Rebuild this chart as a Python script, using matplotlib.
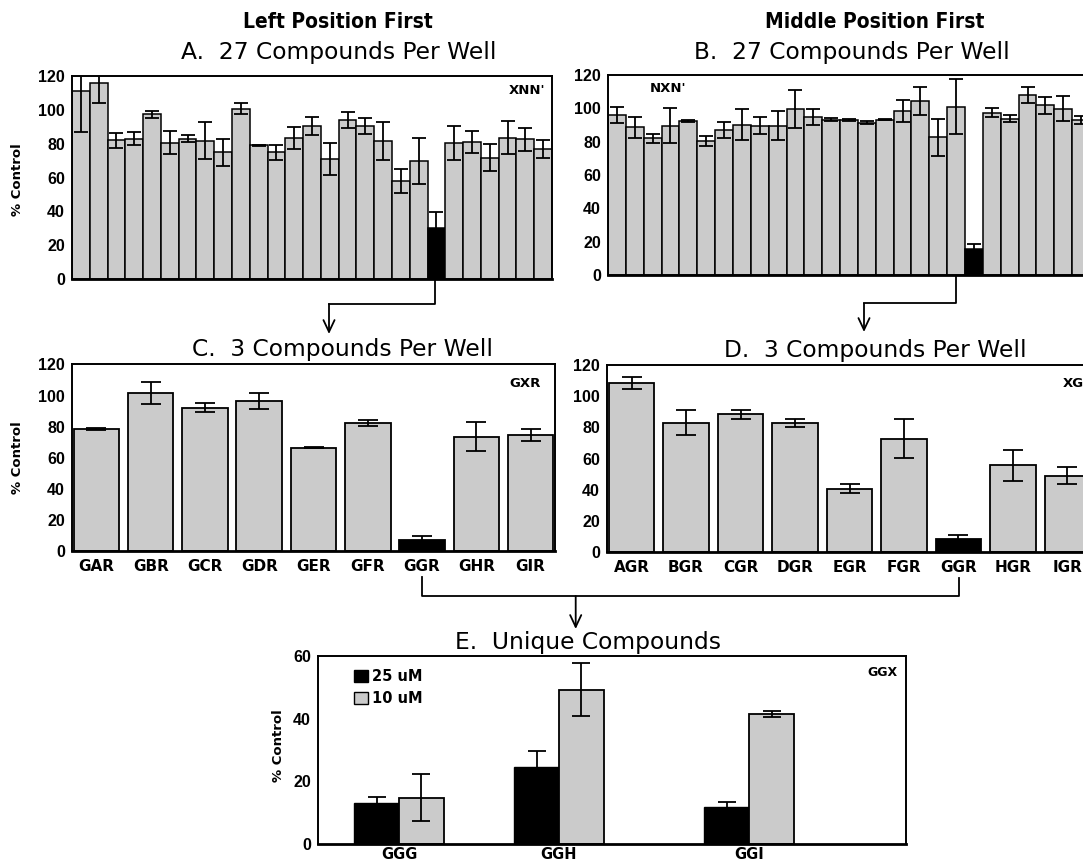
import matplotlib
matplotlib.use("Agg")
import matplotlib.pyplot as plt
from matplotlib.patches import Patch
import numpy as np

W, H = 1083, 863

# panel A / B : 27 compounds per well (bar 21 = active well)
a_vals = [111, 116, 82, 83, 97.4, 80.5, 83, 81.7, 74.8, 100.7, 79, 75, 83.5, 90.5,
          70.9, 93.9, 90.3, 81.5, 57.9, 69.9, 30.4, 80.3, 81, 71.7, 83.5, 82.7, 76.8]
a_err = [24, 12, 4.6, 3.7, 2, 6.8, 2, 11, 8, 3.3, 0.5, 4.5, 6.5, 5.5,
         9.5, 4.6, 4.6, 11.4, 7.2, 13.7, 9, 10, 6.6, 7.9, 9.8, 6.8, 5.2]
b_vals = [95.8, 88.5, 82, 89.5, 92.3, 80.3, 86.9, 90, 89.5, 89.5, 99.3, 94.8, 93.2, 93,
          91.3, 93.2, 98.3, 104.2, 82.6, 101, 15.5, 97.4, 93.8, 108, 101.7, 99.7, 92.8]
b_err = [4.9, 6.5, 2.7, 10.5, 0.5, 3.2, 4.8, 9.3, 5, 8.7, 11.4, 5, 1, 0.5,
         1, 0.5, 6.4, 8.4, 11, 16.3, 3, 2.5, 2, 5, 5.1, 7.6, 2.5]
ab_hit = 20

# panel C / D : 3 compounds per well
c_labels = ['GAR', 'GBR', 'GCR', 'GDR', 'GER', 'GFR', 'GGR', 'GHR', 'GIR']
c_vals = [78.3, 101.7, 92.2, 96.3, 66.3, 82.6, 7.2, 73.6, 74.5]
c_err = [0.6, 6.8, 2.8, 5.1, 0.3, 1.9, 2.6, 9.3, 3.9]
d_labels = ['AGR', 'BGR', 'CGR', 'DGR', 'EGR', 'FGR', 'GGR', 'HGR', 'IGR']
d_vals = [108.2, 82.9, 88.3, 82.7, 40.6, 72.7, 8.5, 55.6, 49]
d_err = [3.9, 8, 2.8, 2.8, 2.9, 12.4, 2.5, 9.9, 5.6]
cd_hit = 6

# panel E : unique compounds
e_labels = ['GGG', 'GGH', 'GGI']
e_25 = [13.0, 24.5, 11.8]
e_25_err = [2.1, 5.3, 1.5]
e_10 = [14.8, 49.2, 41.5]
e_10_err = [7.6, 8.5, 1.0]

GRAY = '#cbcbcb'
plt.rcParams['font.family'] = 'DejaVu Sans'


def box(l, t, r, b):
    return [l / W, 1 - b / H, (r - l) / W, (b - t) / H]


def style(ax, ymax, step):
    ax.set_ylim(0, ymax)
    ax.set_yticks(np.arange(0, ymax + 1, step))
    ax.tick_params(axis='y', length=0, pad=5)
    ax.tick_params(axis='x', length=0)
    for lab in ax.get_yticklabels():
        lab.set_fontweight('bold')
        lab.set_family(['Liberation Sans', 'DejaVu Sans'])
        lab.set_fontsize(11.5)
    for s in ax.spines.values():
        s.set_linewidth(1.4)
    ax.spines['bottom'].set_linewidth(2)


def well_panel(rect, vals, err, hit, capsize):
    ax = fig.add_axes(rect)
    x = np.arange(len(vals))
    colors = [GRAY] * len(vals)
    colors[hit] = 'black'
    ax.bar(x, vals, width=1.0, color=colors, edgecolor='black', linewidth=1.1)
    ax.errorbar(x, vals, yerr=err, fmt='none', ecolor='black', elinewidth=1.3,
                capsize=capsize, capthick=1.3)
    ax.set_xlim(-0.5, len(vals) - 0.5)
    ax.set_xticks([])
    style(ax, 120, 20)
    return ax


def cmpd_panel(rect, labels, vals, err, hit):
    ax = fig.add_axes(rect)
    x = np.arange(len(vals))
    colors = [GRAY] * len(vals)
    colors[hit] = 'black'
    ax.bar(x, vals, width=0.84, color=colors, edgecolor='black', linewidth=1.3)
    ax.errorbar(x, vals, yerr=err, fmt='none', ecolor='black', elinewidth=1.3,
                capsize=7.5, capthick=1.3)
    ax.set_xlim(-0.45, len(vals) - 0.55)
    ax.set_xticks(x)
    ax.set_xticklabels(labels, fontsize=11, fontweight='bold')
    ax.tick_params(axis='x', pad=6)
    style(ax, 120, 20)
    return ax


fig = plt.figure(figsize=(W / 100, H / 100), dpi=100)

axA = well_panel(box(72, 76, 552, 279), a_vals, a_err, ab_hit, 5)
axB = well_panel(box(608, 75, 1090, 275), b_vals, b_err, ab_hit, 5)
axC = cmpd_panel(box(72, 364.5, 555, 551), c_labels, c_vals, c_err, cd_hit)
axD = cmpd_panel(box(607, 365, 1092, 552), d_labels, d_vals, d_err, cd_hit)

axA.text(0.985, 0.93, "XNN'", transform=axA.transAxes, ha='right', va='center',
         fontsize=9.5, fontweight='bold')
axB.text(0.124, 0.93, "NXN'", transform=axB.transAxes, ha='center', va='center',
         fontsize=9.5, fontweight='bold')
axC.text(0.97, 0.9, "GXR", transform=axC.transAxes, ha='right', va='center',
         fontsize=9.5, fontweight='bold')
axD.text(0.94, 0.9, "XGR", transform=axD.transAxes, ha='left', va='center',
         fontsize=9.5, fontweight='bold')

# panel E, groups laid out as in the original (last group sits further right)
axE = fig.add_axes(box(318, 656, 906, 844))
xe = np.array([0, 1, 2.19])
bw = 0.28
axE.bar(xe - bw / 2, e_25, width=bw, color='black', edgecolor='black', linewidth=1.0)
axE.bar(xe + bw / 2, e_10, width=bw, color=GRAY, edgecolor='black', linewidth=1.3)
axE.errorbar(xe - bw / 2, e_25, yerr=e_25_err, fmt='none', ecolor='black',
             elinewidth=1.3, capsize=6.5, capthick=1.3)
axE.errorbar(xe + bw / 2, e_10, yerr=e_10_err, fmt='none', ecolor='black',
             elinewidth=1.3, capsize=6.5, capthick=1.3)
axE.set_xlim(-0.506, 3.17)
axE.set_xticks(xe)
axE.set_xticklabels(e_labels, fontsize=10.5, fontweight='bold')
axE.tick_params(axis='x', pad=2)
style(axE, 60, 20)
axE.text(0.985, 0.91, "GGX", transform=axE.transAxes, ha='right', va='center',
         fontsize=9, fontweight='bold')
handles = [Patch(facecolor='black', edgecolor='black'),
           Patch(facecolor=GRAY, edgecolor='black')]
axE.legend(handles, ['25 uM', '10 uM'], loc='upper left',
           bbox_to_anchor=(0.062, 0.93), frameon=False, borderpad=0, borderaxespad=0,
           handlelength=0.9, handleheight=0.9, handletextpad=0.3, labelspacing=0.45,
           prop={'weight': 'bold', 'size': 10.5})

# titles and axis labels
for t, x in [('Left Position First', 338), ('Middle Position First', 875)]:
    fig.text(x / W, 1 - 22 / H, t, ha='center', va='center', fontsize=15,
             fontweight='bold', fontstretch='condensed')
titles = [('A.  27 Compounds Per Well', 339, 52), ('B.  27 Compounds Per Well', 852, 52),
          ('C.  3 Compounds Per Well', 342, 349), ('D.  3 Compounds Per Well', 875, 350),
          ('E.  Unique Compounds', 588, 643)]
for t, x, y in titles:
    fig.text(x / W, 1 - y / H, t, ha='center', va='center', fontsize=16.8)
for x, y in [(18, 180), (18, 458), (279, 746)]:
    fig.text(x / W, 1 - y / H, '% Control', ha='center', va='center', rotation=90,
             fontsize=9.5, fontweight='bold')

# connector arrows between panels
ov = fig.add_axes([0, 0, 1, 1])
ov.set_xlim(0, W)
ov.set_ylim(H, 0)
ov.axis('off')
ov.patch.set_alpha(0)
arrow = dict(arrowstyle='->,head_length=0.85,head_width=0.4', lw=1.3, color='black',
             shrinkA=0, shrinkB=0)
ov.plot([434.5, 434.5, 329], [280, 304, 304], color='black', lw=1.3)
ov.annotate('', xy=(329, 334), xytext=(329, 304), arrowprops=arrow)
ov.plot([956, 956, 864], [276, 303.5, 303.5], color='black', lw=1.3)
ov.annotate('', xy=(864, 332), xytext=(864, 303.5), arrowprops=arrow)
ov.plot([422, 422, 959, 959], [577, 596, 596, 578], color='black', lw=1.3)
ov.annotate('', xy=(575.7, 629), xytext=(575.7, 596), arrowprops=arrow)

fig.savefig('out.png', dpi=100)
